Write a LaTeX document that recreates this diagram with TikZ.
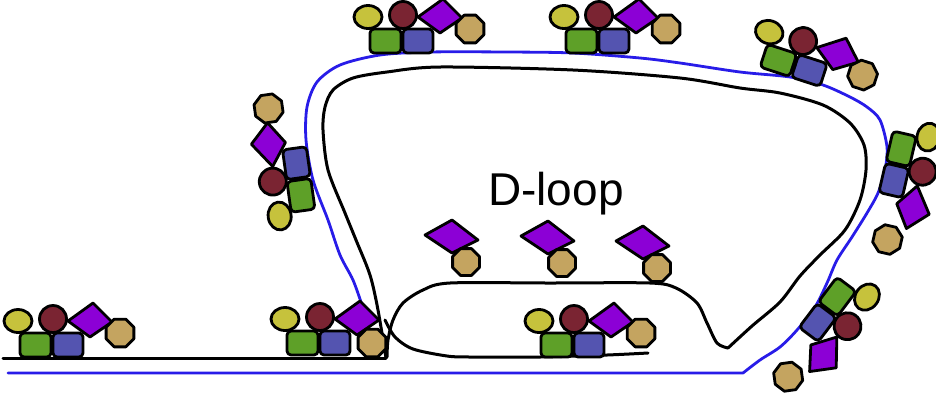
\documentclass[tikz,border=0pt]{standalone}
\usepackage{fontspec}
\setmainfont{Liberation Sans}
\usepackage{tikz}
\definecolor{yellowsub}{RGB}{198,194,60}
\definecolor{redsub}{RGB}{122,36,50}
\definecolor{purplesub}{RGB}{140,0,214}
\definecolor{tansub}{RGB}{196,164,96}
\definecolor{greensub}{RGB}{94,160,40}
\definecolor{bluesub}{RGB}{84,84,176}
\definecolor{strandblue}{RGB}{40,28,232}

\tikzset{
  sub/.style={draw=black, line width=2.8pt, line join=round},
  strand/.style={line width=3pt, line cap=round, line join=round},
  pics/pair/.style={code={
    \draw[sub, fill=purplesub] (-27,-2) -- (0,-17) -- (26,3) -- (0,16) -- cycle;
    \draw[sub, fill=tansub] (14,25) +(22.5:14.5) \foreach \a in {67.5,112.5,...,337.5} {-- +(\a:14.5)} -- cycle;
  }},
  pics/complex/.style={code={
    \draw[sub, fill=yellowsub] (-2,-36) ellipse [x radius=14, y radius=11.5];
    \draw[sub, fill=redsub] (33,-38) circle [radius=13.5];
    \draw[sub, fill=purplesub] (48,-36) -- (73,-54) -- (92,-35) -- (70,-20) -- cycle;
    \draw[sub, fill=tansub] (#1) +(22.5:15) \foreach \a in {67.5,112.5,...,337.5} {-- +(\a:15)} -- cycle;
    \draw[sub, fill=greensub, rounded corners=4pt] (0,0) rectangle (31,-24);
    \draw[sub, fill=bluesub, rounded corners=4pt] (33,0) rectangle (63,-24);
  }},
  pics/complex/.default={100,-24}
}

\begin{document}
\begin{tikzpicture}[x=1pt, y=-1pt]
  \useasboundingbox (0,0) rectangle (936,392);

  % duplex and the opened loop
  \draw[strand] (3,358) -- (386,358);
  \draw[strand] plot[smooth] coordinates {(386,358) (378,310) (370,275) (356,240) (345,213) (328,170) (323,130) (325,107) (333,90) (353,78) (387,72) (440,67) (573,70) (680,78) (740,88) (780,93) (823,105) (850,123) (864,145) (866,170) (860,200) (845,230) (820,255) (800,276) (780,302) (752,326) (728,348)};
  \draw[strand] plot[smooth] coordinates {(728,348) (717,343) (707,323) (697,303) (676,288) (650,283) (550,283) (450,283) (423,290) (403,303) (393,320) (388,340) (387,357)};
  \draw[strand] plot[smooth] coordinates {(648,353) (607,355) (540,357) (470,357) (447,356) (413,349) (395,337) (385,320)};
  \draw[strand, strandblue, line width=2.8pt] plot[smooth] coordinates {(362,305) (353,280) (340,255) (328,220) (313,180) (306,140) (307,107) (317,82) (340,65) (380,55) (430,52) (507,52) (573,53) (640,58) (680,63) (740,72) (790,77) (823,85) (850,97) (867,107) (880,120) (887,147) (885,170) (878,193) (867,213) (852,237) (837,260) (827,283) (815,307) (797,330) (780,347) (760,360) (743,373)} -- (8,373);

  \node[font=\fontsize{46}{50}\selectfont, anchor=base] (dloop) at (556,205) {D-loop};

  \pic at (452,237) {pair};
  \pic at (548,238) {pair};
  \pic at (643,243) {pair};

  \pic at (20,357) {complex};
  \pic at (287,355) {complex={85,-12}};
  \pic at (541,357) {complex};
  \pic at (370,53) {complex};
  \pic at (566,53) {complex};
  \pic[rotate=-18] at (760,67) {complex};
  \pic[rotate=98] at (315,209) {complex={106,-32}};
  \pic[rotate=-103] at (893,131) {complex={107,-19}};
  \pic[rotate=-127] at (837,277) {complex={109,-21}};
\end{tikzpicture}
\end{document}
